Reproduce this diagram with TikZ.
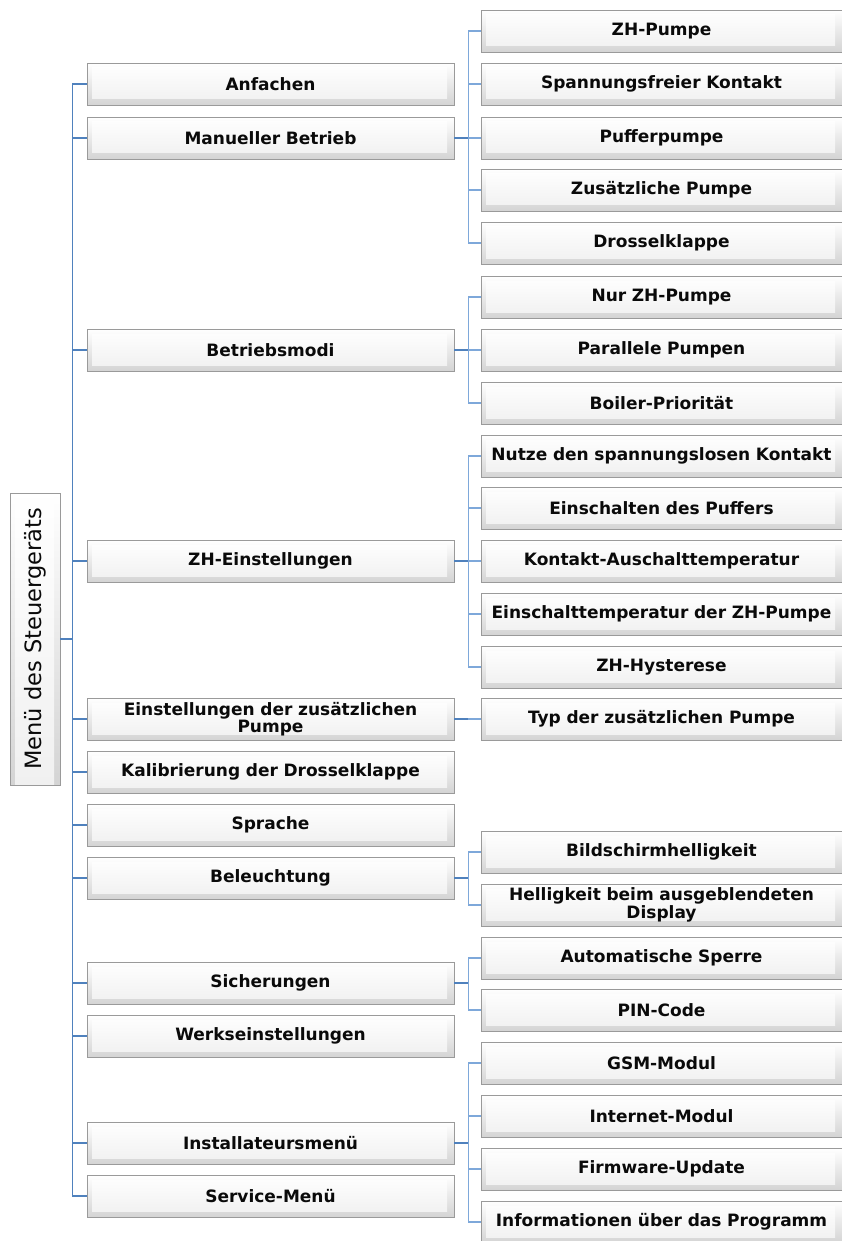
\documentclass[tikz,border=0pt]{standalone}
\usepackage{fontspec}
\setmainfont{DejaVu Sans}
\usepackage{tikz}
\usetikzlibrary{calc}
\definecolor{linkBlue}{HTML}{4F81BD}
\definecolor{linkLight}{HTML}{7EA8DA}
\definecolor{boxEdge}{HTML}{9A9A9A}
\definecolor{ink}{HTML}{0A0A0A}

\begin{document}
\begin{tikzpicture}[
  x=1pt, y=-1pt,
  bevel/.style={draw=boxEdge, line width=0.8pt, top color=white, bottom color=black!17,
    path picture={\fill[top color=white, bottom color=black!6]
      ($(path picture bounding box.north west)+(5,5)$) rectangle
      ($(path picture bounding box.south east)+(-7,-6)$);}},
  box/.style={bevel, minimum height=42pt, inner sep=1pt, align=center,
    text=ink, font=\bfseries\fontsize{17}{17.5}\selectfont},
  lvone/.style={box, minimum width=367pt, text width=362pt},
  lvtwo/.style={box, minimum width=361pt, text width=358pt},
  rootbox/.style={bevel, minimum width=292pt, minimum height=50pt, rotate=90,
    text=ink, font=\fontsize{22.5}{24}\selectfont},
  trunk/.style={draw=linkBlue, line width=1.8pt},
  stub/.style={draw=linkBlue, line width=2.4pt},
  link/.style={draw=linkLight, line width=1.4pt}
]
\useasboundingbox (0,0) rectangle (841,1241);

% ------------------------------------------------------------------
% Root
% ------------------------------------------------------------------
\node[rootbox] (root) at (35,639) {Menü des Steuergeräts};

% ------------------------------------------------------------------
% Level 1
% ------------------------------------------------------------------
\node[lvone] (anf)  at (270.5,84)   {Anfachen};
\node[lvone] (man)  at (270.5,138)  {Manueller Betrieb};
\node[lvone] (mod)  at (270.5,350)  {Betriebsmodi};
\node[lvone] (zhe)  at (270.5,561)  {ZH-Einstellungen};
\node[lvone] (zus)  at (270.5,719)  {Einstellungen der zusätzlichen\\Pumpe};
\node[lvone] (kal)  at (270.5,772)  {Kalibrierung der Drosselklappe};
\node[lvone] (spr)  at (270.5,825)  {Sprache};
\node[lvone] (bel)  at (270.5,878)  {Beleuchtung};
\node[lvone] (sic)  at (270.5,983)  {Sicherungen};
\node[lvone] (werk) at (270.5,1036) {Werkseinstellungen};
\node[lvone] (inst) at (270.5,1143) {Installateursmenü};
\node[lvone] (serv) at (270.5,1196) {Service-Menü};

\draw[stub] (root.south) -- ++(12,0);
\foreach \c in {anf,man,mod,zhe,zus,kal,spr,bel,sic,werk,inst,serv}
  \draw[trunk] (root.south) ++(12,0) |- (\c.west);

% ------------------------------------------------------------------
% Level 2
% ------------------------------------------------------------------
\node[lvtwo] (man1) at (661.5,31)  {ZH-Pumpe};
\node[lvtwo] (man2) at (661.5,84)  {Spannungsfreier Kontakt};
\node[lvtwo] (man3) at (661.5,138) {Pufferpumpe};
\node[lvtwo] (man4) at (661.5,190) {Zusätzliche Pumpe};
\node[lvtwo] (man5) at (661.5,243) {Drosselklappe};

\node[lvtwo] (mod1) at (661.5,297) {Nur ZH-Pumpe};
\node[lvtwo] (mod2) at (661.5,350) {Parallele Pumpen};
\node[lvtwo] (mod3) at (661.5,403) {Boiler-Priorität};

\node[lvtwo] (zhe1) at (661.5,456) {Nutze den spannungslosen Kontakt};
\node[lvtwo] (zhe2) at (661.5,508) {Einschalten des Puffers};
\node[lvtwo] (zhe3) at (661.5,561) {Kontakt-Auschalttemperatur};
\node[lvtwo] (zhe4) at (661.5,614) {Einschalttemperatur der ZH-Pumpe};
\node[lvtwo] (zhe5) at (661.5,667) {ZH-Hysterese};

\node[lvtwo] (zus1) at (661.5,719) {Typ der zusätzlichen Pumpe};

\node[lvtwo] (bel1) at (661.5,852) {Bildschirmhelligkeit};
\node[lvtwo] (bel2) at (661.5,905) {Helligkeit beim ausgeblendeten\\Display};

\node[lvtwo] (sic1) at (661.5,958)  {Automatische Sperre};
\node[lvtwo] (sic2) at (661.5,1010) {PIN-Code};

\node[lvtwo] (inst1) at (661.5,1063) {GSM-Modul};
\node[lvtwo] (inst2) at (661.5,1116) {Internet-Modul};
\node[lvtwo] (inst3) at (661.5,1169) {Firmware-Update};
\node[lvtwo] (inst4) at (661.5,1222) {Informationen über das Programm};

\foreach \p/\kids in {man/{man1,man2,man3,man4,man5}, mod/{mod1,mod2,mod3},
    zhe/{zhe1,zhe2,zhe3,zhe4,zhe5}, zus/{zus1}, bel/{bel1,bel2},
    sic/{sic1,sic2}, inst/{inst1,inst2,inst3,inst4}}
{
  \foreach \k in \kids
    \draw[link] (\p.east) ++(14,0) |- (\k.west);
  \draw[stub] (\p.east) -- ++(14,0);
}

\end{tikzpicture}
\end{document}
